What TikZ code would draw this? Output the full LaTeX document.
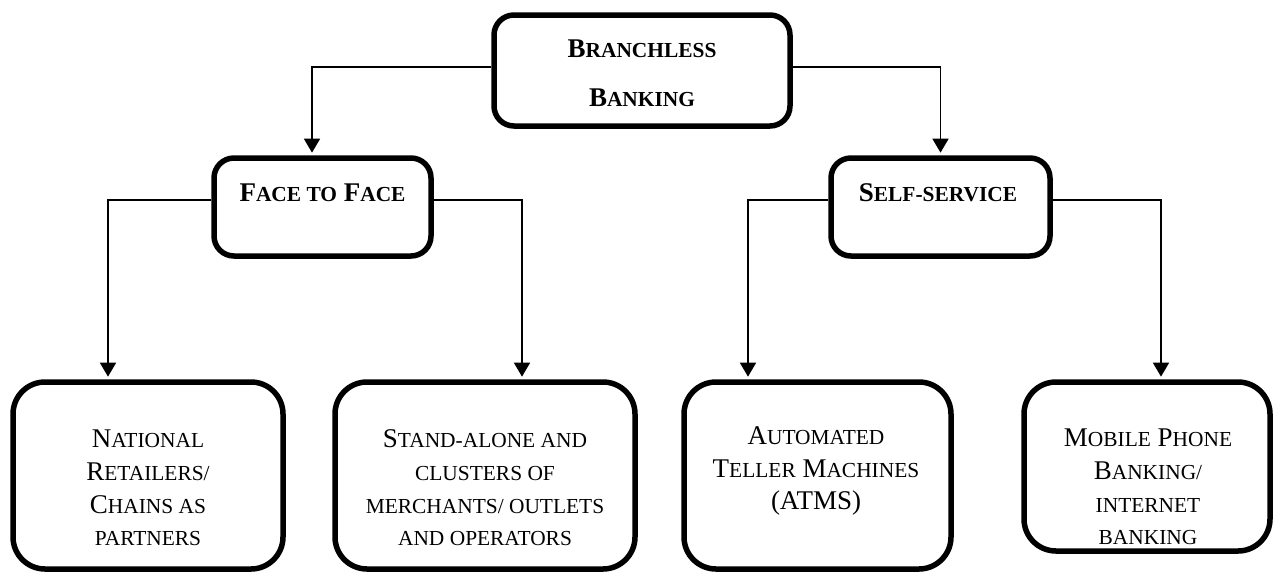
\documentclass[tikz,border=0pt]{standalone}
\usepackage{fontspec}
\setmainfont{Liberation Serif}
\usetikzlibrary{arrows.meta}
% small capitals made from scaled-down capitals
\newcommand\sm[1]{{\fontsize{21.4pt}{33pt}\selectfont #1}}
\begin{document}
\begin{tikzpicture}[x=1pt,y=-1pt,
  box/.style={draw=black, line width=5.5pt, rounded corners=#1, inner sep=0pt},
  box/.default=20pt,
  txt/.style={align=center, inner sep=0pt, font=\fontsize{27pt}{32.7pt}\selectfont},
  conn/.style={draw=black, line width=1.8pt, -{Triangle[width=16pt,length=14pt]}, shorten >=2.6pt}]
\useasboundingbox (0,0) rectangle (1275,574);

% boxes
\node[box, minimum width=296pt, minimum height=111pt] (top)   at (642,70.5)  {};
\node[box, minimum width=217pt, minimum height=98pt]  (face)  at (322.5,207) {};
\node[box, minimum width=219pt, minimum height=98pt]  (self)  at (940.5,207) {};
\node[box=32pt, minimum width=270pt, minimum height=187pt] (nat)   at (148,475.5)   {};
\node[box=32pt, minimum width=300pt, minimum height=187pt] (stand) at (485,475.5)   {};
\node[box=32pt, minimum width=267pt, minimum height=187pt] (atm)   at (817.5,475.5) {};
\node[box=32pt, minimum width=246pt, minimum height=169pt] (mob)   at (1147,466.5)  {};

% labels
\node[txt, font=\fontsize{27pt}{49pt}\selectfont\bfseries] (topT) at (642,73)
  {B\sm{RANCHLESS}\\ B\sm{ANKING}};
\node[txt, font=\fontsize{27pt}{33pt}\selectfont\bfseries] (faceT) at (322.5,193)
  {F\sm{ACE TO} F\sm{ACE}};
\node[txt, font=\fontsize{27pt}{33pt}\selectfont\bfseries] (selfT) at (938,193)
  {S\sm{ELF-SERVICE}};
\node[txt] (natT) at (148,488)
  {N\sm{ATIONAL}\\ R\sm{ETAILERS/}\\ C\sm{HAINS AS}\\ \sm{PARTNERS}};
\node[txt] (standT) at (485,488)
  {S\sm{TAND-ALONE AND}\\ \sm{CLUSTERS OF}\\ \sm{MERCHANTS/ OUTLETS}\\ \sm{AND OPERATORS}};
\node[txt] (atmT) at (816,471)
  {A\sm{UTOMATED}\\ T\sm{ELLER} M\sm{ACHINES}\\ (ATMS)};
\node[txt] (mobT) at (1148,487)
  {M\sm{OBILE} P\sm{HONE}\\ B\sm{ANKING/}\\ \sm{INTERNET}\\ \sm{BANKING}};

% connectors
\draw[conn] ([yshift=3.5pt]top.west) -| ([xshift=-10.5pt]face.north);
\draw[conn] ([yshift=3.5pt]top.east) -| (self.north);
\draw[conn] ([yshift=7pt]face.west) -| ([xshift=-40pt]nat.north);
\draw[conn] ([yshift=7pt]face.east) -| ([xshift=37pt]stand.north);
\draw[conn] ([yshift=7pt]self.west) -| ([xshift=-69.5pt]atm.north);
\draw[conn] ([yshift=7pt]self.east) -| ([xshift=14pt]mob.north);
\end{tikzpicture}
\end{document}
